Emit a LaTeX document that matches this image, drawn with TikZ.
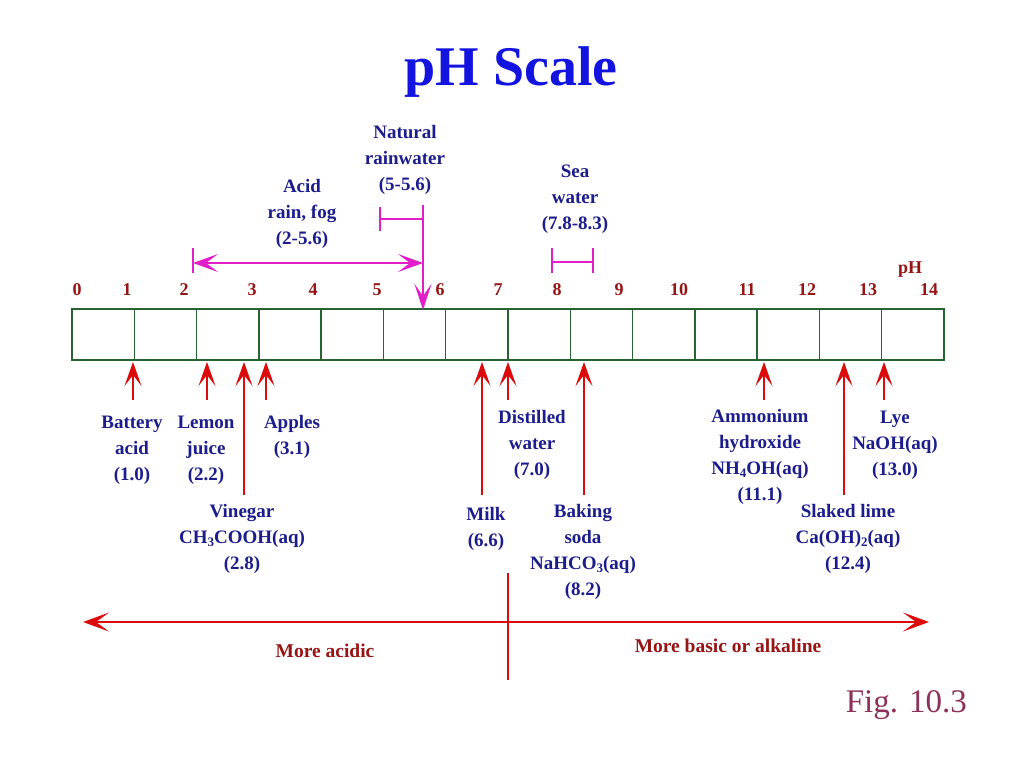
\documentclass[tikz,border=0pt]{standalone}
\usepackage{fontspec}
\setmainfont{Liberation Serif}
\usetikzlibrary{arrows.meta}
\definecolor{titleblue}{RGB}{20,20,225}
\definecolor{labblue}{RGB}{28,28,140}
\definecolor{numred}{RGB}{150,20,20}
\definecolor{arrred}{RGB}{220,10,10}
\definecolor{boxgreen}{RGB}{40,100,50}
\definecolor{magc}{RGB}{225,30,200}
\definecolor{figpurple}{RGB}{140,50,90}
\newcommand{\lab}[1]{\begin{tabular}[t]{@{}c@{}}#1\end{tabular}}
\newcommand{\sub}[1]{\raisebox{-0.35ex}{\fontsize{13}{13}\selectfont #1}}
\begin{document}
\begin{tikzpicture}[x=1pt,y=-1pt,
  lbl/.style={anchor=base, inner sep=0pt, text=labblue, font=\fontsize{19}{26}\selectfont\bfseries},
  num/.style={anchor=base, inner sep=0pt, text=numred, font=\fontsize{18}{22}\selectfont\bfseries},
  side/.style={anchor=base, inner sep=0pt, text=numred, font=\fontsize{19.5}{22}\selectfont\bfseries},
  ptr/.style={draw=arrred, line width=2.2pt, -{Stealth[length=24pt,width=17pt,inset=11pt]}},
  magline/.style={draw=magc, line width=2pt},
  magarrow/.style={draw=magc, line width=2pt, {Stealth[length=25pt,width=18pt,inset=12pt]}-{Stealth[length=25pt,width=18pt,inset=12pt]}},
  magdown/.style={draw=magc, line width=2pt, -{Stealth[length=26pt,width=17pt,inset=12pt]}},
  bigarrow/.style={draw=arrred, line width=2pt, {Stealth[length=26pt,width=19pt,inset=13pt]}-{Stealth[length=26pt,width=19pt,inset=13pt]}},
  cell/.style={draw=boxgreen, line width=1.5pt}
]
\useasboundingbox (0,0) rectangle (1024,768);
\fill[white] (0,0) rectangle (1024,768);

% title
\node[anchor=base, inner sep=0pt, text=titleblue, font=\fontsize{56}{60}\selectfont\bfseries] (title) at (511,85) {pH Scale};

% scale box
\draw[cell] (72,309) rectangle (944,360);
\foreach \k in {1,...,13} {
  \draw[cell] ({72+62.2857*\k},309) -- ({72+62.2857*\k},360);
}

% numbers
\foreach \n/\x in {0/77,1/127,2/184,3/252,4/313,5/377,6/440,7/498,8/557,9/619,10/679,11/747,12/807,13/868,14/929} {
  \node[num] (n\n) at (\x,295) {\n};
}
\node[num] (phlab) at (910,273) {pH};

% top labels
\node[lbl] (natural) at (405,138) {\lab{Natural\\rainwater\\(5-5.6)}};
\node[lbl] (acid) at (302,192) {\lab{Acid\\rain, fog\\(2-5.6)}};
\node[lbl] (sea) at (575,177) {\lab{Sea\\water\\(7.8-8.3)}};

% magenta ranges
\coordinate (arL) at (193,263);
\coordinate (arR) at (423,263);
\draw[magline] (193,248) -- (193,273);
\draw[magarrow] (arL) -- (arR);
\coordinate (nrL) at (380,219);
\coordinate (nrTop) at (423,205);
\coordinate (nrTip) at (423,310);
\draw[magline] (380,207) -- (380,231);
\draw[magline] (nrL) -- (423,219);
\draw[magdown] (nrTop) -- (nrTip);
\coordinate (swL) at (552,262);
\coordinate (swR) at (593,262);
\draw[magline] (552,248) -- (552,273);
\draw[magline] (593,248) -- (593,273);
\draw[magline] (swL) -- (swR);

% red pointers
\foreach \nm/\x/\t in {bat/133/400,lem/207/400,vin/244/495,app/266/400,milk/482/495,dist/508/400,bak/584/495,amm/764/400,sl/844/495,lye/884/400} {
  \coordinate (\nm tail) at (\x,\t);
  \coordinate (\nm head) at (\x,362);
  \draw[ptr] (\nm tail) -- (\nm head);
}

% bottom labels
\node[lbl] (battery) at (132,428) {\lab{Battery\\acid\\(1.0)}};
\node[lbl] (lemon) at (206,428) {\lab{Lemon\\juice\\(2.2)}};
\node[lbl] (apples) at (292,428) {\lab{Apples\\(3.1)}};
\node[lbl] (vinegar) at (242,517) {\lab{Vinegar\\CH\sub{3}COOH(aq)\\(2.8)}};
\node[lbl] (distilled) at (532,423) {\lab{Distilled\\water\\(7.0)}};
\node[lbl] (milk) at (486,520) {\lab{Milk\\(6.6)}};
\node[lbl] (baking) at (583,517) {\lab{Baking\\soda\\NaHCO\sub{3}(aq)\\(8.2)}};
\node[lbl] (ammonium) at (760,422) {\lab{Ammonium\\hydroxide\\NH\sub{4}OH(aq)\\(11.1)}};
\node[lbl] (lye) at (895,423) {\lab{Lye\\NaOH(aq)\\(13.0)}};
\node[lbl] (slaked) at (848,517) {\lab{Slaked lime\\Ca(OH)\sub{2}(aq)\\(12.4)}};

% bottom axis
\coordinate (acidEnd) at (83,622);
\coordinate (baseEnd) at (929,622);
\coordinate (midTop) at (508,573);
\coordinate (midBot) at (508,680);
\draw[bigarrow] (acidEnd) -- (baseEnd);
\draw[draw=arrred, line width=2pt] (midTop) -- (midBot);
\node[side] (moreacid) at (325,657) {More acidic};
\node[side] (morebase) at (728,652) {More basic or alkaline};

% figure label
\node[anchor=base east, inner sep=0pt, text=figpurple, font=\fontsize{33}{40}\selectfont] (fig) at (967,712) {Fig. 10.3};
\end{tikzpicture}
\end{document}
